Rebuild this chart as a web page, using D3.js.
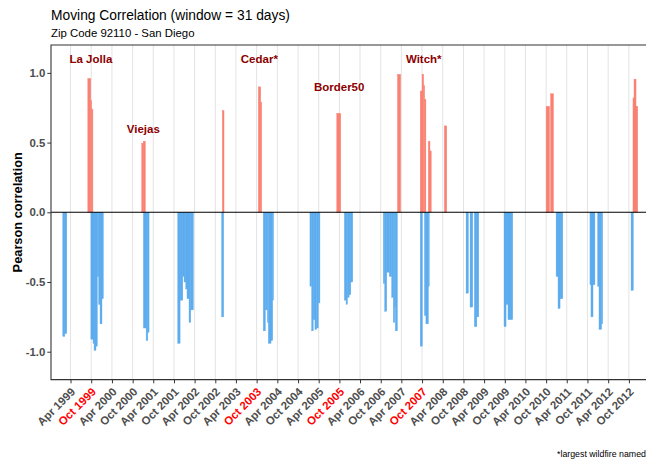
<!DOCTYPE html>
<html>
<head>
<meta charset="utf-8">
<script src="https://cdn.jsdelivr.net/npm/d3@7"></script>
<style>
  html, body { margin: 0; padding: 0; background: #fff; }
  svg { display: block; font-family: "Liberation Sans", Arial, sans-serif; }
</style>
</head>
<body>
<svg id="chart" width="646" height="460"></svg>
<script>
// tick labels on the date axis (every six months)
const tickLabels = [
  "Apr 1999", "Oct 1999", "Apr 2000", "Oct 2000", "Apr 2001", "Oct 2001", "Apr 2002",
  "Oct 2002", "Apr 2003", "Oct 2003", "Apr 2004", "Oct 2004", "Apr 2005", "Oct 2005",
  "Apr 2006", "Oct 2006", "Apr 2007", "Oct 2007", "Apr 2008", "Oct 2008", "Apr 2009",
  "Oct 2009", "Apr 2010", "Oct 2010", "Apr 2011", "Oct 2011", "Apr 2012", "Oct 2012"
];
const fireMonths = ["Oct 1999", "Oct 2003", "Oct 2005", "Oct 2007"];

const yTicks = [-1, -0.5, 0, 0.5, 1];

// runs of days with (roughly) the same correlation: [start, end, r]
const positiveRuns = [
  ["1999-09-01", "1999-09-27", 0.96], ["1999-09-27", "1999-10-05", 0.80], ["1999-10-05", "1999-10-16", 0.74],
  ["2000-12-20", "2001-01-02", 0.495], ["2001-01-02", "2001-01-21", 0.51],
  ["2002-12-02", "2002-12-17", 0.73],
  ["2003-10-16", "2003-11-06", 0.90], ["2003-11-06", "2003-11-15", 0.79],
  ["2005-09-08", "2005-10-13", 0.71],
  ["2007-02-26", "2007-03-26", 0.99],
  ["2007-09-15", "2007-10-01", 0.87], ["2007-10-01", "2007-10-15", 0.99], ["2007-10-15", "2007-10-24", 0.91],
  ["2007-10-24", "2007-11-04", 0.81], ["2007-11-25", "2007-12-10", 0.51], ["2007-12-10", "2007-12-21", 0.44],
  ["2008-04-15", "2008-05-06", 0.62],
  ["2010-10-01", "2010-10-31", 0.76], ["2010-11-09", "2010-12-05", 0.85],
  ["2012-11-06", "2012-11-15", 0.82], ["2012-11-15", "2012-12-03", 0.955], ["2012-12-03", "2012-12-18", 0.76]
];

const negativeRuns = [
  ["1999-01-23", "1999-02-10", -0.89], ["1999-02-10", "1999-02-27", -0.87],
  ["1999-09-28", "1999-10-17", -0.91], ["1999-10-17", "1999-10-26", -0.94], ["1999-10-26", "1999-11-12", -0.99],
  ["1999-11-12", "1999-11-24", -0.96], ["1999-11-24", "1999-12-06", -0.46], ["1999-12-06", "1999-12-18", -0.66],
  ["1999-12-18", "2000-01-04", -0.80], ["2000-01-04", "2000-01-16", -0.62],
  ["2001-01-04", "2001-01-28", -0.83], ["2001-01-28", "2001-02-12", -0.92], ["2001-02-12", "2001-02-23", -0.86],
  ["2001-11-03", "2001-11-24", -0.94], ["2001-11-24", "2001-12-18", -0.63], ["2001-12-18", "2001-12-29", -0.46],
  ["2001-12-29", "2002-01-13", -0.50], ["2002-01-13", "2002-01-24", -0.55], ["2002-01-24", "2002-02-11", -0.62],
  ["2002-02-11", "2002-02-26", -0.79], ["2002-02-26", "2002-03-21", -0.70],
  ["2002-11-26", "2002-12-14", -0.75],
  ["2003-11-29", "2003-12-17", -0.85], ["2003-12-17", "2004-01-04", -0.70], ["2004-01-04", "2004-01-12", -0.79],
  ["2004-01-12", "2004-02-05", -0.94], ["2004-02-05", "2004-02-20", -0.92], ["2004-02-20", "2004-02-27", -0.63],
  ["2005-01-14", "2005-01-29", -0.53], ["2005-01-29", "2005-02-12", -0.85], ["2005-02-12", "2005-02-27", -0.77],
  ["2005-02-27", "2005-03-14", -0.84], ["2005-03-14", "2005-03-28", -0.83], ["2005-03-28", "2005-04-12", -0.65],
  ["2005-11-14", "2005-11-29", -0.63], ["2005-11-29", "2005-12-11", -0.66], ["2005-12-11", "2005-12-26", -0.61],
  ["2005-12-26", "2006-01-10", -0.59], ["2006-01-10", "2006-01-27", -0.50],
  ["2006-10-24", "2006-11-05", -0.51], ["2006-11-05", "2006-11-23", -0.71], ["2006-11-23", "2006-12-16", -0.43],
  ["2006-12-16", "2007-01-06", -0.46], ["2007-01-06", "2007-01-20", -0.61], ["2007-01-20", "2007-02-02", -0.79],
  ["2007-02-02", "2007-02-07", -0.68], ["2007-02-07", "2007-02-25", -0.85],
  ["2007-09-15", "2007-10-04", -0.96], ["2007-10-22", "2007-11-04", -0.74], ["2007-11-04", "2007-11-26", -0.80],
  ["2007-11-26", "2007-12-04", -0.53],
  ["2008-10-24", "2008-11-13", -0.58], ["2008-11-28", "2008-12-22", -0.68], ["2009-01-05", "2009-01-27", -0.82],
  ["2009-01-27", "2009-02-13", -0.75],
  ["2009-09-24", "2009-10-12", -0.82], ["2009-10-12", "2009-10-29", -0.66], ["2009-10-29", "2009-12-10", -0.77],
  ["2010-12-28", "2011-01-14", -0.46], ["2011-01-14", "2011-02-01", -0.69], ["2011-02-01", "2011-02-25", -0.62],
  ["2011-10-23", "2011-11-01", -0.52], ["2011-11-01", "2011-11-19", -0.75], ["2011-11-19", "2011-12-06", -0.52],
  ["2011-12-30", "2012-01-11", -0.53], ["2012-01-11", "2012-02-03", -0.84], ["2012-02-03", "2012-02-12", -0.80],
  ["2012-10-20", "2012-11-09", -0.56]
];

// wildfire annotations
const fireNames = ["La Jolla", "Viejas", "Cedar*", "Border50", "Witch*"];
const fireDates = ["1999-09-28", "2001-01-03", "2003-10-25", "2005-09-29", "2007-10-16"];
const fireLabelY = [1.1, 0.6, 1.1, 0.9, 1.1];

const parseDay = d3.timeParse("%Y-%m-%d");
const parseMonth = d3.timeParse("%b %Y");

const panel = { left: 51, top: 45, right: 652, bottom: 379.6 };

const svg = d3.select("#chart");

const x = d3.scaleTime()
  .domain([parseMonth("Apr 1999"), parseMonth("Oct 2012")])
  .range([70.5, 628.9]);
const y = d3.scaleLinear()
  .domain([-1.2, 1.2])
  .range([panel.bottom, panel.top]);

const tickDates = tickLabels.map(parseMonth);

// grid
svg.append("g")
  .selectAll("line")
  .data(tickDates)
  .join("line")
  .attr("x1", d => x(d)).attr("x2", d => x(d))
  .attr("y1", panel.top).attr("y2", panel.bottom)
  .attr("stroke", "#e3e3e3")
  .attr("stroke-width", 1);

// bars
function drawRuns(runs, color) {
  svg.append("g")
    .selectAll("rect")
    .data(runs)
    .join("rect")
    .attr("x", d => x(parseDay(d[0])))
    .attr("width", d => Math.max(0.8, x(parseDay(d[1])) - x(parseDay(d[0]))))
    .attr("y", d => y(Math.max(0, d[2])))
    .attr("height", d => Math.abs(y(d[2]) - y(0)))
    .attr("fill", color)
    .attr("stroke", color)
    .attr("stroke-width", 0.4);
}
drawRuns(positiveRuns, "#FA8072");
drawRuns(negativeRuns, "#5CACEE");

// zero line
svg.append("line")
  .attr("x1", panel.left).attr("x2", panel.right)
  .attr("y1", y(0)).attr("y2", y(0))
  .attr("stroke", "#000")
  .attr("stroke-width", 1.1);

// fire labels
svg.append("g")
  .selectAll("text")
  .data(fireNames)
  .join("text")
  .attr("x", (d, i) => x(parseDay(fireDates[i])))
  .attr("y", (d, i) => y(fireLabelY[i]))
  .attr("dy", "0.35em")
  .attr("text-anchor", "middle")
  .attr("font-size", "11.5px")
  .attr("font-weight", "bold")
  .attr("fill", "#8B0000")
  .text(d => d);

// panel border
svg.append("path")
  .attr("d", `M${panel.right},${panel.top}H${panel.left}V${panel.bottom}H${panel.right}`)
  .attr("fill", "none")
  .attr("stroke", "#333")
  .attr("stroke-width", 1.1);

// y axis
const yAxis = svg.append("g")
  .attr("transform", `translate(${panel.left},0)`)
  .call(d3.axisLeft(y).tickValues(yTicks).tickFormat(d => d.toFixed(1)).tickSize(3.7).tickPadding(2));
yAxis.select(".domain").remove();
yAxis.selectAll(".tick line").attr("stroke", "#333");
yAxis.selectAll(".tick text")
  .attr("font-family", "Liberation Sans, Arial, sans-serif")
  .attr("font-size", "11.4px")
  .attr("font-weight", "bold")
  .attr("fill", "#4D4D4D");

// x axis
const xAxis = svg.append("g")
  .attr("transform", `translate(0,${panel.bottom})`)
  .call(d3.axisBottom(x).tickValues(tickDates).tickFormat("").tickSize(3.7));
xAxis.select(".domain").remove();
xAxis.selectAll(".tick line").attr("stroke", "#333");

svg.append("g")
  .selectAll("text")
  .data(tickLabels)
  .join("text")
  .attr("transform", d => `translate(${x(parseMonth(d)) - 0.5},${panel.bottom + 7}) rotate(-45)`)
  .attr("dy", "0.74em")
  .attr("text-anchor", "end")
  .attr("font-size", "11.4px")
  .attr("font-weight", "bold")
  .attr("fill", d => fireMonths.includes(d) ? "#FF0000" : "#4D4D4D")
  .text(d => d);

// titles
svg.append("text")
  .attr("x", 51).attr("y", 20)
  .attr("font-size", "13.8px")
  .attr("fill", "#000")
  .text("Moving Correlation (window = 31 days)");
svg.append("text")
  .attr("x", 51).attr("y", 36.5)
  .attr("font-size", "11.4px")
  .attr("fill", "#000")
  .text("Zip Code 92110 - San Diego");

svg.append("text")
  .attr("transform", `translate(21.5,${(panel.top + panel.bottom) / 2}) rotate(-90)`)
  .attr("text-anchor", "middle")
  .attr("font-size", "12.8px")
  .attr("font-weight", "bold")
  .attr("fill", "#000")
  .text("Pearson correlation");

svg.append("text")
  .attr("x", 646).attr("y", 456.5)
  .attr("text-anchor", "end")
  .attr("font-size", "8.8px")
  .attr("fill", "#000")
  .text("*largest wildfire named");
</script>
</body>
</html>
